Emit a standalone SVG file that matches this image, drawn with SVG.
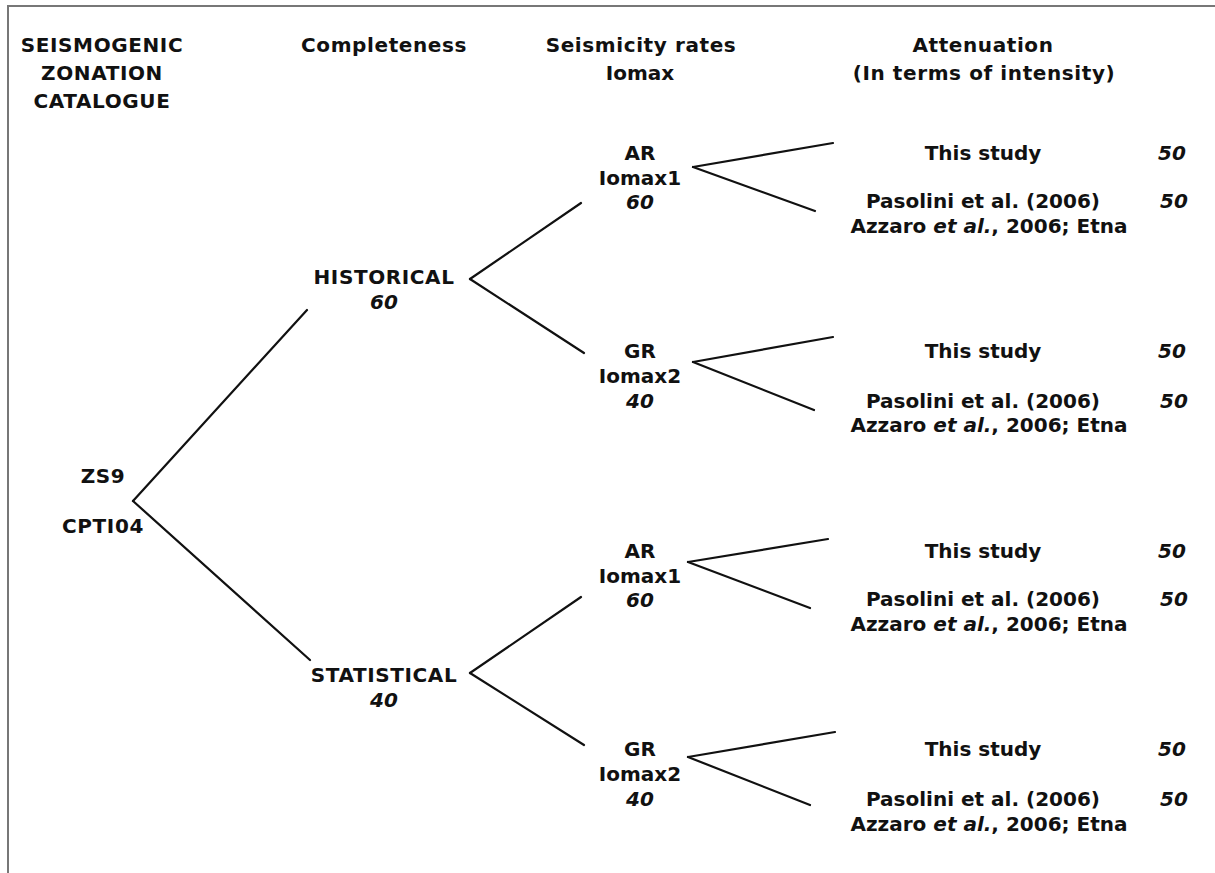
<svg xmlns="http://www.w3.org/2000/svg" width="1215" height="873" viewBox="0 0 1215 873">
<style>
text{font-family:"DejaVu Sans",Verdana,sans-serif;font-weight:bold;font-size:20px;fill:#111;text-anchor:middle}
.h{letter-spacing:0.6px}
.i{font-style:italic}
.e{font-style:italic}
#connectors line{stroke:#111;stroke-width:2.2;stroke-linecap:round}
</style>
<rect width="1215" height="873" fill="#fff"/>
<path d="M8 873 V6 H1215" fill="none" stroke="#777" stroke-width="2"/>
<g id="headers">
<text x="102" y="52" class="h">SEISMOGENIC</text>
<text x="102" y="80" class="h">ZONATION</text>
<text x="102" y="108" class="h">CATALOGUE</text>
<text x="384" y="52" class="h">Completeness</text>
<text x="641" y="52" class="h">Seismicity rates</text>
<text x="640" y="80">Iomax</text>
<text x="983" y="52" class="h">Attenuation</text>
<text x="984" y="80" class="h">(In terms of intensity)</text>
</g>
<g id="connectors">
<line x1="133" y1="501" x2="307" y2="310"/>
<line x1="133" y1="501" x2="310" y2="660"/>
<line x1="470" y1="279" x2="581" y2="203"/>
<line x1="470" y1="279" x2="584" y2="353"/>
<line x1="470" y1="673" x2="581" y2="597"/>
<line x1="470" y1="673" x2="584" y2="745"/>
<line x1="693" y1="167" x2="833" y2="143"/>
<line x1="693" y1="167" x2="815" y2="211"/>
<line x1="693" y1="362" x2="833" y2="337"/>
<line x1="693" y1="362" x2="814" y2="410"/>
<line x1="688" y1="562" x2="828" y2="539"/>
<line x1="688" y1="562" x2="810" y2="608"/>
<line x1="688" y1="757" x2="835" y2="732"/>
<line x1="688" y1="757" x2="810" y2="805"/>
</g>
<g id="root">
<text x="103" y="483" class="h">ZS9</text>
<text x="103" y="533" class="h">CPTI04</text>
</g>
<g id="historical">
<text x="384" y="284" class="h">HISTORICAL</text>
<text x="384" y="309" class="i">60</text>
</g>
<g id="statistical">
<text x="384" y="682" class="h">STATISTICAL</text>
<text x="384" y="707" class="i">40</text>
</g>
<g id="ar1">
<text x="640" y="160">AR</text>
<text x="640" y="185">Iomax1</text>
<text x="640" y="209" class="i">60</text>
</g>
<g id="gr1">
<text x="640" y="358">GR</text>
<text x="640" y="383">Iomax2</text>
<text x="640" y="408" class="i">40</text>
</g>
<g id="ar2">
<text x="640" y="558">AR</text>
<text x="640" y="583">Iomax1</text>
<text x="640" y="607" class="i">60</text>
</g>
<g id="gr2">
<text x="640" y="756">GR</text>
<text x="640" y="781">Iomax2</text>
<text x="640" y="806" class="i">40</text>
</g>
<g id="att1a"><text x="983" y="160">This study</text><text x="1172" y="160" class="i">50</text></g>
<g id="att1b"><text x="983" y="208">Pasolini et al. (2006)</text><text x="1174" y="208" class="i">50</text><text x="989" y="233">Azzaro <tspan class="e">et al.</tspan>, 2006; Etna</text></g>
<g id="att2a"><text x="983" y="358">This study</text><text x="1172" y="358" class="i">50</text></g>
<g id="att2b"><text x="983" y="408">Pasolini et al. (2006)</text><text x="1174" y="408" class="i">50</text><text x="989" y="432">Azzaro <tspan class="e">et al.</tspan>, 2006; Etna</text></g>
<g id="att3a"><text x="983" y="558">This study</text><text x="1172" y="558" class="i">50</text></g>
<g id="att3b"><text x="983" y="606">Pasolini et al. (2006)</text><text x="1174" y="606" class="i">50</text><text x="989" y="631">Azzaro <tspan class="e">et al.</tspan>, 2006; Etna</text></g>
<g id="att4a"><text x="983" y="756">This study</text><text x="1172" y="756" class="i">50</text></g>
<g id="att4b"><text x="983" y="806">Pasolini et al. (2006)</text><text x="1174" y="806" class="i">50</text><text x="989" y="831">Azzaro <tspan class="e">et al.</tspan>, 2006; Etna</text></g>
</svg>
